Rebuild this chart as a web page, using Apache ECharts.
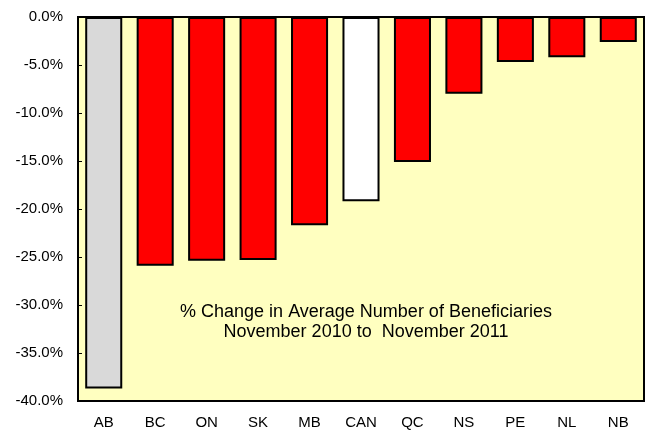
<!doctype html>
<html>
<head>
<meta charset="utf-8">
<title>Beneficiaries change</title>
<style>
  html, body { margin: 0; padding: 0; background: #fff; }
  #main { width: 648px; height: 430px; }
</style>
</head>
<body>
<div id="main"></div>
<script src="https://cdn.jsdelivr.net/npm/echarts@6/dist/echarts.min.js"></script>
<script>
var provinces = ['AB', 'BC', 'ON', 'SK', 'MB', 'CAN', 'QC', 'NS', 'PE', 'NL', 'NB'];
var pctChange = [-38.7, -25.9, -25.4, -25.3, -21.7, -19.2, -15.1, -8.0, -4.7, -4.2, -2.6];
var barColors = ['#d9d9d9', '#ff0000', '#ff0000', '#ff0000', '#ff0000', '#ffffff',
                 '#ff0000', '#ff0000', '#ff0000', '#ff0000', '#ff0000'];
var yTicks = { min: -40, max: 0, step: 5 };

var chart = echarts.init(document.getElementById('main'));

var font = 'Liberation Sans, Arial, sans-serif';

chart.setOption({
    animation: false,
    grid: {
        left: 78, right: 4, top: 17, bottom: 29,
        show: true,
        backgroundColor: '#ffffc0',
        borderColor: '#000',
        borderWidth: 2
    },
    xAxis: {
        type: 'category',
        data: provinces,
        position: 'bottom',
        axisLine: { onZero: false, lineStyle: { color: '#000', width: 2 } },
        axisTick: { show: false },
        axisLabel: { color: '#000', fontFamily: font, fontSize: 15, margin: 14 }
    },
    yAxis: {
        type: 'value',
        min: yTicks.min,
        max: yTicks.max,
        interval: yTicks.step,
        axisLine: { show: true, lineStyle: { color: '#000', width: 2 } },
        axisTick: { show: true, inside: true, length: 4, lineStyle: { color: '#000' } },
        splitLine: { show: false },
        axisLabel: {
            color: '#000', fontFamily: font, fontSize: 15, margin: 15,
            formatter: function (v) { return v.toFixed(1) + '%'; }
        }
    },
    graphic: [{
        type: 'text',
        x: 366,
        y: 302,
        style: {
            text: '% Change in Average Number of Beneficiaries\nNovember 2010 to  November 2011',
            font: '18px ' + font,
            fill: '#000',
            align: 'center',
            lineHeight: 20
        }
    }],
    series: [{
        type: 'bar',
        barCategoryGap: '28%',
        data: pctChange.map(function (v, i) {
            return {
                value: v,
                itemStyle: { color: barColors[i], borderColor: '#000', borderWidth: 2 }
            };
        })
    }]
});
</script>
</body>
</html>
